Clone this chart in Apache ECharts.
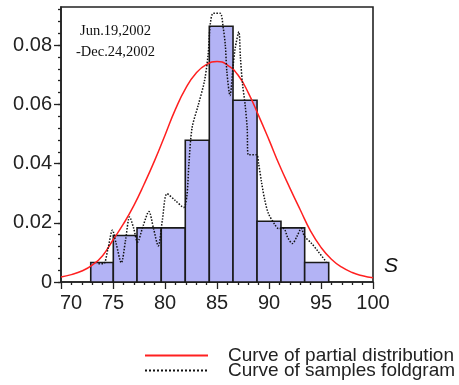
<!DOCTYPE html>
<html><head><meta charset="utf-8">
<script src="https://cdn.jsdelivr.net/npm/echarts@6/dist/echarts.min.js"></script>
<style>html,body{margin:0;padding:0;background:#fff}#c{width:459px;height:385px}</style>
</head><body><div id="c"></div>
<script>
// Histogram bins (left edge, right edge, density)
const binLeft   = [72.86, 75.03, 77.31, 79.64, 81.95, 84.26, 86.54, 88.85, 91.15, 93.43];
const binRight  = [75.03, 77.31, 79.64, 81.95, 84.26, 86.54, 88.85, 91.15, 93.43, 95.74];
const binHeight = [0.0066, 0.0157, 0.0183, 0.0183, 0.0479, 0.0864, 0.0614, 0.0205, 0.0183, 0.0066];

// Curve of partial distribution
const curveX = [70,71,72,73,74,75,76,77,78,79,80,81,82,83,84,85,86,87,88,89,90,91,92,93,94,95,96,97,98,99,100];
const curveY = [0.0017,0.0025,0.0037,0.0057,0.0089,0.0142,0.0196,0.0258,0.0331,0.0410,0.0496,0.0583,0.0655,0.0706,0.0735,0.0745,0.0733,0.0700,0.0640,0.0562,0.0480,0.0395,0.0318,0.0244,0.0172,0.0117,0.0077,0.0050,0.0032,0.0021,0.0014];

// Curve of samples foldgram
const foldX = [73.6,74.1,74.5,74.95,75.3,75.8,76.2,76.6,77.0,77.35,77.9,78.45,78.9,79.35,79.75,80.2,81.0,81.8,82.1,82.3,82.6,83.2,83.8,84.15,84.35,84.65,85.3,85.6,85.8,85.95,86.25,86.55,86.75,87.1,87.25,87.45,87.7,87.9,88.0,88.8,89.0,89.3,89.6,89.95,90.6,90.9,91.4,91.8,92.25,92.7,93.1,93.4,94.1,94.75,95.5];
const foldY = [0.0062,0.0062,0.0110,0.0175,0.0130,0.0065,0.0140,0.0220,0.0180,0.0135,0.0190,0.0238,0.0180,0.0122,0.0210,0.0298,0.0275,0.0252,0.0290,0.0400,0.0520,0.0598,0.0680,0.0770,0.0870,0.0908,0.0908,0.0858,0.0800,0.0710,0.0630,0.0730,0.0790,0.0845,0.0760,0.0670,0.0600,0.0520,0.0430,0.0430,0.0400,0.0333,0.0276,0.0231,0.0192,0.0181,0.0181,0.0150,0.0130,0.0155,0.0181,0.0155,0.0130,0.0102,0.0068];

const yMajorTicks = [0, 0.02, 0.04, 0.06, 0.08];
const yMinorTicks = [0,0.004,0.008,0.012,0.016,0.02,0.024,0.028,0.032,0.036,0.04,0.044,0.048,0.052,0.056,0.06,0.064,0.068,0.072,0.076,0.08,0.084,0.088,0.092];
const xMin = 70, xMax = 100, xStep = 5;
const yMax = 0.0929;

const legendNames = ['Curve of partial distribution', 'Curve of samples foldgram'];

const chart = echarts.init(document.getElementById('c'), null, {renderer: 'canvas'});
const lab = '#222';
chart.setOption({
  animation: false,
  backgroundColor: '#fff',
  grid: {left: 61, right: 86, top: 7, bottom: 103, show: true, borderColor: '#222', borderWidth: 1.6, backgroundColor: 'transparent'},
  xAxis: {
    type: 'value', min: xMin, max: xMax, interval: xStep,
    axisLine: {lineStyle: {color: '#222', width: 1.6}},
    axisTick: {length: 7, lineStyle: {color: '#222', width: 1.3}},
    minorTick: {show: true, splitNumber: 5, length: 3, lineStyle: {color: '#222', width: 1.3}},
    splitLine: {show: false},
    axisLabel: {
      margin: 11, fontSize: 20, fontFamily: 'Liberation Sans, Arial, sans-serif', color: lab,
      formatter: v => v === xMin ? '{f|' + v + '}' : String(v),
      rich: {f: {fontSize: 20, fontFamily: 'Liberation Sans, Arial, sans-serif', color: lab, padding: [0, 0, 0, 20]}}
    }
  },
  yAxis: [{
    type: 'value', min: 0, max: yMax,
    axisLine: {show: true, lineStyle: {color: '#222', width: 1.6}},
    axisTick: {show: true, length: 7, customValues: yMajorTicks, lineStyle: {color: '#222', width: 1.3}},
    splitLine: {show: false},
    axisLabel: {margin: 9, fontSize: 20, fontFamily: 'Liberation Sans, Arial, sans-serif', color: lab, customValues: yMajorTicks}
  }, {
    type: 'value', min: 0, max: yMax, position: 'left',
    axisLine: {show: false},
    axisTick: {show: true, length: 3, customValues: yMinorTicks, lineStyle: {color: '#222', width: 1.3}},
    splitLine: {show: false},
    axisLabel: {show: false}
  }],
  legend: {
    data: legendNames, orient: 'vertical', left: 144, top: 346, padding: 0,
    itemWidth: 63, itemHeight: 8, itemGap: -4,
    itemStyle: {color: 'rgba(0,0,0,0)', borderWidth: 0, borderColor: 'rgba(0,0,0,0)'},
    textStyle: {fontSize: 19, fontFamily: 'Liberation Sans, Arial, sans-serif', color: lab, lineHeight: 16, padding: [0, 0, 0, 15]}
  },
  series: [{
    type: 'custom', name: 'hist', z: 1,
    data: binLeft.map((l, i) => [l, binRight[i], binHeight[i]]),
    encode: {x: [0, 1], y: 2},
    renderItem: (params, api) => {
      const p0 = api.coord([api.value(0), api.value(2)]);
      const p1 = api.coord([api.value(1), 0]);
      return {type: 'rect', shape: {x: p0[0], y: p0[1], width: p1[0] - p0[0], height: p1[1] - p0[1]},
        style: {fill: '#b3b3f5', stroke: '#1a1a1a', lineWidth: 1.6}};
    }
  }, {
    type: 'line', name: legendNames[0], z: 3, smooth: true, symbol: 'none',
    data: curveX.map((x, i) => [x, curveY[i]]),
    lineStyle: {color: '#ff2020', width: 1.5}, itemStyle: {color: '#ff2020'}
  }, {
    type: 'line', name: legendNames[1], z: 4, smooth: 0.3, symbol: 'none',
    data: foldX.map((x, i) => [x, foldY[i]]),
    lineStyle: {color: '#111', width: 1.5, type: 'dotted'}, itemStyle: {color: '#111'}
  }],
  graphic: [
    {type: 'text', left: 384, top: 256, style: {text: 'S', fontSize: 21, fontStyle: 'italic', fontFamily: 'Liberation Sans, Arial, sans-serif', fill: '#111'}},
    {type: 'text', x: 115.5, y: 31, style: {text: 'Jun.19,2002', fontSize: 14.5, fontFamily: 'Liberation Serif, Times New Roman, serif', fill: '#111', align: 'center', verticalAlign: 'middle'}},
    {type: 'text', x: 115.5, y: 52, style: {text: '-Dec.24,2002', fontSize: 14.5, fontFamily: 'Liberation Serif, Times New Roman, serif', fill: '#111', align: 'center', verticalAlign: 'middle'}}
  ]
});
</script>
</body></html>
